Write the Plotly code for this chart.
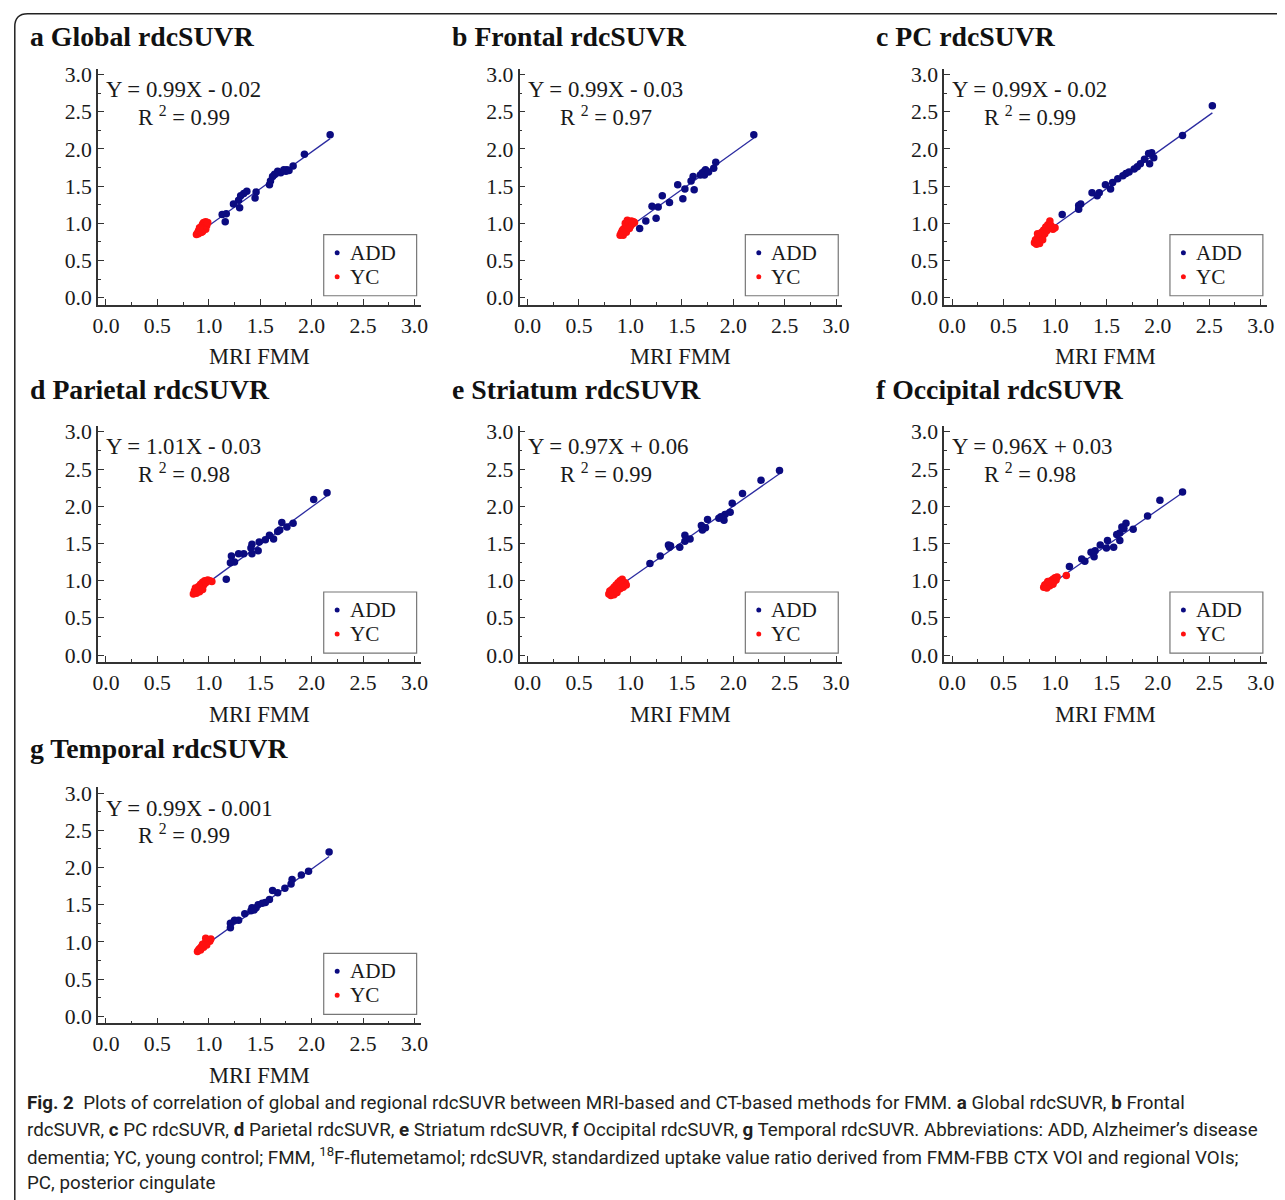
import plotly.graph_objects as go

W, H = 1285, 1200

panel_letters = ["a", "b", "c", "d", "e", "f", "g"]
panel_names = ["Global", "Frontal", "PC", "Parietal", "Striatum", "Occipital", "Temporal"]
slopes = [0.99, 0.99, 0.99, 1.01, 0.97, 0.96, 0.99]
intercepts = [-0.02, -0.03, -0.02, -0.03, 0.06, 0.03, -0.001]
eq_labels = ["Y = 0.99X - 0.02", "Y = 0.99X - 0.03", "Y = 0.99X - 0.02", "Y = 1.01X - 0.03",
             "Y = 0.97X + 0.06", "Y = 0.96X + 0.03", "Y = 0.99X - 0.001"]
r2_labels = ["0.99", "0.97", "0.99", "0.98", "0.99", "0.98", "0.99"]
tick_vals = [0.0, 0.5, 1.0, 1.5, 2.0, 2.5, 3.0]
tick_text = ["0.0", "0.5", "1.0", "1.5", "2.0", "2.5", "3.0"]
minor_vals = [0.25, 0.75, 1.25, 1.75, 2.25, 2.75]
legend_names = ["ADD", "YC"]

# ADD data (MRI FMM x, CT FMM y)
add_x_a = [2.18, 1.93, 1.82, 1.76, 1.75, 1.70, 1.67, 1.64, 1.62, 1.60, 1.59, 1.46, 1.45, 1.37, 1.34, 1.31, 1.29, 1.30, 1.24, 1.17, 1.13, 1.16, 1.73, 1.78]
add_y_a = [2.19, 1.93, 1.77, 1.72, 1.70, 1.68, 1.70, 1.66, 1.63, 1.57, 1.52, 1.42, 1.34, 1.43, 1.40, 1.37, 1.31, 1.21, 1.26, 1.13, 1.12, 1.02, 1.72, 1.71]
add_x_b = [2.20, 1.83, 1.81, 1.73, 1.72, 1.70, 1.68, 1.72, 1.61, 1.59, 1.62, 1.53, 1.46, 1.51, 1.31, 1.38, 1.27, 1.21, 1.25, 1.15, 1.09, 1.76]
add_y_b = [2.19, 1.82, 1.74, 1.72, 1.70, 1.68, 1.65, 1.65, 1.63, 1.57, 1.45, 1.46, 1.52, 1.33, 1.37, 1.28, 1.22, 1.23, 1.07, 1.03, 0.93, 1.69]
add_x_c = [2.53, 2.24, 1.96, 1.94, 1.91, 1.92, 1.87, 1.83, 1.80, 1.77, 1.69, 1.66, 1.61, 1.56, 1.54, 1.49, 1.43, 1.36, 1.41, 1.23, 1.23, 1.07, 1.25, 1.72]
add_y_c = [2.58, 2.18, 1.88, 1.95, 1.94, 1.80, 1.86, 1.80, 1.76, 1.73, 1.67, 1.64, 1.60, 1.55, 1.46, 1.52, 1.41, 1.41, 1.37, 1.24, 1.19, 1.12, 1.26, 1.69]
add_x_d = [2.15, 2.02, 1.82, 1.76, 1.71, 1.69, 1.67, 1.63, 1.59, 1.49, 1.48, 1.42, 1.42, 1.34, 1.29, 1.22, 1.25, 1.21, 1.17, 1.41, 1.55]
add_y_d = [2.18, 2.09, 1.77, 1.72, 1.78, 1.68, 1.66, 1.56, 1.61, 1.52, 1.40, 1.49, 1.36, 1.36, 1.36, 1.33, 1.25, 1.24, 1.02, 1.44, 1.55]
add_x_e = [2.45, 2.27, 2.09, 1.99, 1.97, 1.92, 1.91, 1.88, 1.86, 1.75, 1.73, 1.69, 1.70, 1.53, 1.53, 1.48, 1.39, 1.37, 1.38, 1.29, 1.19, 1.58]
add_y_e = [2.48, 2.35, 2.17, 2.04, 1.92, 1.89, 1.81, 1.86, 1.84, 1.82, 1.71, 1.74, 1.68, 1.61, 1.53, 1.45, 1.47, 1.48, 1.45, 1.33, 1.23, 1.56]
add_x_f = [2.24, 2.02, 1.90, 1.76, 1.69, 1.65, 1.67, 1.63, 1.60, 1.63, 1.57, 1.51, 1.50, 1.44, 1.39, 1.35, 1.38, 1.26, 1.29, 1.14]
add_y_f = [2.19, 2.08, 1.87, 1.69, 1.77, 1.72, 1.70, 1.64, 1.62, 1.54, 1.45, 1.54, 1.44, 1.48, 1.40, 1.38, 1.32, 1.29, 1.26, 1.19]
add_x_g = [2.17, 1.97, 1.90, 1.81, 1.80, 1.74, 1.67, 1.62, 1.59, 1.55, 1.48, 1.46, 1.42, 1.41, 1.35, 1.29, 1.25, 1.21, 1.21, 1.44, 1.52]
add_y_g = [2.21, 1.95, 1.90, 1.84, 1.78, 1.72, 1.66, 1.69, 1.57, 1.53, 1.50, 1.46, 1.46, 1.42, 1.38, 1.29, 1.29, 1.25, 1.19, 1.43, 1.52]

# YC data
yc_x_a = [0.88, 0.89, 0.90, 0.90, 0.91, 0.92, 0.92, 0.93, 0.93, 0.94, 0.94, 0.95, 0.95, 0.96, 0.96, 0.97, 0.97, 0.98, 0.98, 0.99, 0.93, 0.91]
yc_y_a = [0.85, 0.87, 0.86, 0.90, 0.89, 0.88, 0.93, 0.91, 0.96, 0.89, 0.99, 0.93, 1.01, 0.95, 0.99, 0.92, 1.02, 0.97, 1.00, 1.01, 0.88, 0.94]
yc_x_b = [0.90, 0.91, 0.92, 0.92, 0.93, 0.94, 0.95, 0.95, 0.96, 0.97, 0.97, 0.98, 0.99, 1.00, 1.01, 1.02, 1.03, 0.93, 0.96, 0.99, 1.04]
yc_y_b = [0.84, 0.87, 0.90, 0.86, 0.92, 0.88, 0.95, 1.00, 0.91, 0.97, 1.04, 0.94, 1.00, 0.96, 1.03, 0.99, 1.02, 0.84, 0.88, 0.93, 1.01]
yc_x_c = [0.80, 0.81, 0.82, 0.83, 0.84, 0.85, 0.86, 0.87, 0.88, 0.89, 0.90, 0.91, 0.92, 0.93, 0.94, 0.95, 0.96, 0.98, 1.00, 0.85, 0.88, 0.83]
yc_y_c = [0.74, 0.78, 0.72, 0.80, 0.76, 0.84, 0.80, 0.88, 0.83, 0.91, 0.86, 0.95, 0.90, 0.98, 0.93, 1.03, 0.97, 0.92, 0.94, 0.73, 0.78, 0.86]
yc_x_d = [0.85, 0.86, 0.87, 0.88, 0.89, 0.90, 0.91, 0.92, 0.93, 0.94, 0.95, 0.96, 0.97, 0.99, 1.01, 1.03, 0.88, 0.91, 0.94, 0.87]
yc_y_d = [0.82, 0.86, 0.84, 0.89, 0.87, 0.92, 0.89, 0.95, 0.91, 0.98, 0.94, 1.00, 0.97, 1.01, 1.00, 0.99, 0.83, 0.85, 0.88, 0.90]
yc_x_e = [0.79, 0.80, 0.81, 0.82, 0.83, 0.84, 0.85, 0.86, 0.87, 0.88, 0.89, 0.90, 0.91, 0.92, 0.93, 0.95, 0.96, 0.84, 0.87, 0.90, 0.93]
yc_y_e = [0.82, 0.86, 0.80, 0.88, 0.84, 0.91, 0.87, 0.94, 0.90, 0.97, 0.93, 1.00, 0.95, 1.02, 0.98, 0.97, 0.94, 0.81, 0.84, 0.89, 0.91]
yc_x_f = [0.89, 0.90, 0.91, 0.92, 0.93, 0.94, 0.95, 0.96, 0.97, 0.98, 0.99, 1.00, 1.01, 1.02, 0.92, 0.95, 0.98, 0.93, 1.11]
yc_y_f = [0.91, 0.94, 0.92, 0.96, 0.94, 0.98, 0.96, 1.00, 0.97, 1.02, 0.99, 1.04, 1.01, 1.05, 0.90, 0.93, 0.95, 0.99, 1.07]
yc_x_g = [0.89, 0.90, 0.91, 0.92, 0.93, 0.94, 0.95, 0.96, 0.97, 0.98, 0.99, 1.00, 1.01, 1.02, 0.92, 0.95, 0.98, 0.94, 0.97]
yc_y_g = [0.87, 0.89, 0.91, 0.92, 0.94, 0.95, 0.96, 0.98, 0.99, 1.00, 1.02, 1.03, 1.01, 1.04, 0.89, 0.93, 0.96, 0.97, 1.05]

add_x = [add_x_a, add_x_b, add_x_c, add_x_d, add_x_e, add_x_f, add_x_g]
add_y = [add_y_a, add_y_b, add_y_c, add_y_d, add_y_e, add_y_f, add_y_g]
yc_x = [yc_x_a, yc_x_b, yc_x_c, yc_x_d, yc_x_e, yc_x_f, yc_x_g]
yc_y = [yc_y_a, yc_y_b, yc_y_c, yc_y_d, yc_y_e, yc_y_f, yc_y_g]

caption_lines = [
    "<b>Fig. 2</b>  Plots of correlation of global and regional rdcSUVR between MRI-based and CT-based methods for FMM. <b>a</b> Global rdcSUVR, <b>b</b> Frontal",
    "rdcSUVR, <b>c</b> PC rdcSUVR, <b>d</b> Parietal rdcSUVR, <b>e</b> Striatum rdcSUVR, <b>f</b> Occipital rdcSUVR, <b>g</b> Temporal rdcSUVR. Abbreviations: ADD, Alzheimer\u2019s disease",
    "dementia; YC, young control; FMM, <sup>18</sup>F-flutemetamol; rdcSUVR, standardized uptake value ratio derived from FMM-FBB CTX VOI and regional VOIs;",
    "PC, posterior cingulate",
]

# ---------- layout geometry (target page pixels) ----------
# observed mapping from figure pixels to photographed page pixels: page = S*fig + B
S, BX, BY = 0.99, 13.0, 13.5
col_left = [97, 519, 944]
col_right = [420, 842, 1267]
row_top = [69, 426, 787]
row_bot = [305, 662, 1023]
title_x = [27, 449, 874]
title_y = [37, 390, 748]

ADD_COLOR = "#0b0b80"
YC_COLOR = "#ff1010"
LINE_COLOR = "#2b2ba0"
SERIF = "Liberation Serif, Times New Roman, serif"
TXT = "#1a1a1a"


def px(x):
    return ((x - BX) / S) / W


def py(y):
    return 1 - ((y - BY) / S) / H


def fs(v):
    return v / S


fig = go.Figure()
annotations = []
shapes = []
layout_axes = {}

for i in range(7):
    r, c = divmod(i, 3)
    n = i + 1
    xa = "x" if n == 1 else f"x{n}"
    ya = "y" if n == 1 else f"y{n}"
    xkey = "xaxis" if n == 1 else f"xaxis{n}"
    ykey = "yaxis" if n == 1 else f"yaxis{n}"

    allx = add_x[i] + yc_x[i]
    x0, x1 = min(allx), max(allx)
    fig.add_trace(go.Scatter(x=[x0, x1], y=[slopes[i] * x0 + intercepts[i], slopes[i] * x1 + intercepts[i]],
                             mode="lines", line=dict(color=LINE_COLOR, width=1.3),
                             showlegend=False, xaxis=xa, yaxis=ya, hoverinfo="skip"))
    fig.add_trace(go.Scatter(x=add_x[i], y=add_y[i], mode="markers",
                             marker=dict(color=ADD_COLOR, size=7.5), name="ADD",
                             showlegend=False, xaxis=xa, yaxis=ya))
    fig.add_trace(go.Scatter(x=yc_x[i], y=yc_y[i], mode="markers",
                             marker=dict(color=YC_COLOR, size=7.5), name="YC",
                             showlegend=False, xaxis=xa, yaxis=ya))

    common = dict(showline=True, linecolor="#333333", linewidth=1.5,
                  ticks="inside", ticklen=6, tickwidth=1, tickcolor="#333333",
                  tickvals=tick_vals, ticktext=tick_text,
                  minor=dict(ticks="inside", ticklen=3, tickwidth=1, tickcolor="#333333",
                             tickvals=minor_vals),
                  showgrid=False, zeroline=False, mirror=False,
                  tickfont=dict(family=SERIF, size=fs(21.5), color=TXT), fixedrange=True)
    layout_axes[xkey] = dict(common, range=[-0.078, 3.06],
                             domain=[px(col_left[c]), px(col_right[c])], anchor=ya)
    layout_axes[ykey] = dict(common, range=[-0.094, 3.08],
                             domain=[py(row_bot[r]), py(row_top[r])], anchor=xa)

    # legend box (drawn manually to match the reference spacing)
    lx0, ly0 = col_left[c] + 226, row_top[r] + 166
    shapes.append(dict(type="rect", xref="paper", yref="paper",
                       x0=px(lx0), x1=px(lx0 + 93), y0=py(ly0), y1=py(ly0 + 61),
                       line=dict(color="#777777", width=1.2), fillcolor="white", layer="above"))
    for k, (nm, col) in enumerate(zip(legend_names, [ADD_COLOR, YC_COLOR])):
        cy = ly0 + 18 + 24 * k
        shapes.append(dict(type="circle", xref="paper", yref="paper",
                           x0=px(lx0 + 11), x1=px(lx0 + 16), y0=py(cy - 2.5), y1=py(cy + 2.5),
                           line=dict(color=col, width=0), fillcolor=col, layer="above"))
        annotations.append(dict(x=px(lx0 + 24), y=py(cy), xref="paper", yref="paper", text=nm,
                                showarrow=False, xanchor="left", yanchor="middle",
                                font=dict(family=SERIF, size=fs(21), color=TXT)))

    annotations.append(dict(x=px(title_x[c]), y=py(title_y[r]), xref="paper", yref="paper",
                            text=f"<b>{panel_letters[i]} {panel_names[i]} rdcSUVR</b>", showarrow=False,
                            xanchor="left", yanchor="middle",
                            font=dict(family=SERIF, size=fs(27.5), color="#111111")))
    annotations.append(dict(x=px(col_left[c] + 6), y=py(row_top[r] + 21), xref="paper", yref="paper",
                            text=eq_labels[i], showarrow=False, xanchor="left", yanchor="middle",
                            font=dict(family=SERIF, size=fs(22.6), color=TXT)))
    annotations.append(dict(x=px(col_left[c] + 38), y=py(row_top[r] + 47), xref="paper", yref="paper",
                            text=f"R <sup>2</sup> = {r2_labels[i]}", showarrow=False, xanchor="left",
                            yanchor="middle", font=dict(family=SERIF, size=fs(22.3), color=TXT)))
    annotations.append(dict(x=px((col_left[c] + col_right[c]) / 2), y=py(row_bot[r] + 52),
                            xref="paper", yref="paper", text="MRI FMM", showarrow=False,
                            xanchor="center", yanchor="middle",
                            font=dict(family=SERIF, size=fs(22.3), color=TXT)))

cap_y = [1103, 1129.5, 1156, 1183]
for k, line in enumerate(caption_lines):
    annotations.append(dict(x=px(24), y=py(cap_y[k]), xref="paper", yref="paper", text=line,
                            showarrow=False, xanchor="left", yanchor="middle",
                            font=dict(family="Roboto, sans-serif", size=fs(18.6), color="#231f20")))

# rounded frame (top-left corner visible, extends past right/bottom edges)
fx0, fy0 = 0.8, 0.8   # figure pixels (as close to the page corner as the figure allows)
frame_path = (f"M {fx0 / W} {1 - 1240 / H} L {fx0 / W} {1 - (fy0 + 13) / H} "
              f"Q {fx0 / W} {1 - fy0 / H} {(fx0 + 13) / W} {1 - fy0 / H} "
              f"L {1340 / W} {1 - fy0 / H}")
shapes.append(dict(type="path", path=frame_path, xref="paper", yref="paper",
                   line=dict(color="#222222", width=1.5)))

fig.update_layout(
    width=W, height=H, margin=dict(l=0, r=0, t=0, b=0),
    paper_bgcolor="white", plot_bgcolor="white", showlegend=False,
    annotations=annotations, shapes=shapes,
    **layout_axes,
)

fig.write_html("out.html")
